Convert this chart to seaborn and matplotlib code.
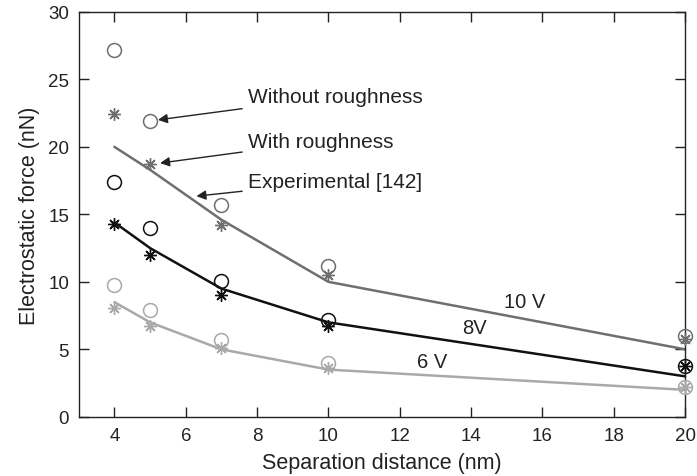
import matplotlib
matplotlib.use("Agg")
import matplotlib.pyplot as plt
import seaborn as sns
import pandas as pd

# Separation distances (nm)
distance = [4, 5, 7, 10, 20]

# Experimental curves [142]
exp_10v = [20.0, 18.3, 14.6, 10.0, 5.0]
exp_8v = [14.4, 12.5, 9.5, 7.0, 3.0]
exp_6v = [8.5, 7.0, 5.0, 3.5, 2.0]

# Model without roughness (circles)
smooth_10v = [27.2, 21.9, 15.7, 11.2, 6.0]
smooth_8v = [17.4, 14.0, 10.1, 7.2, 3.8]
smooth_6v = [9.8, 7.9, 5.7, 4.0, 2.2]

# Model with roughness (asterisks)
rough_10v = [22.4, 18.7, 14.2, 10.5, 5.8]
rough_8v = [14.3, 12.0, 9.0, 6.7, 3.8]
rough_6v = [8.1, 6.7, 5.1, 3.6, 2.2]

voltages = ["10 V", "8V", "6 V"]
colors = {"10 V": "#6f6f6f", "8V": "#111111", "6 V": "#a9a9a9"}


def frame(*series):
    return pd.DataFrame({
        "d": distance * len(series),
        "F": [f for s in series for f in s],
        "V": [v for v in voltages for _ in distance],
    })


exp = frame(exp_10v, exp_8v, exp_6v)
smooth = frame(smooth_10v, smooth_8v, smooth_6v)
rough = frame(rough_10v, rough_8v, rough_6v)

sns.set_style("ticks")
plt.rcParams["font.family"] = ["Liberation Sans", "DejaVu Sans"]

fig = plt.figure(figsize=(6.97, 4.77), dpi=100)
ax = fig.add_axes([0.113, 0.124, 0.870, 0.849])

sns.lineplot(data=exp, x="d", y="F", hue="V", palette=colors, linewidth=1.8,
             legend=False, ax=ax, clip_on=False, zorder=2)

for v in voltages:
    sub = smooth[smooth["V"] == v]
    ax.plot(sub["d"], sub["F"], linestyle="none", marker="o", markersize=10,
            markerfacecolor="none", markeredgecolor=colors[v], markeredgewidth=1.1,
            clip_on=False, zorder=3)
    sub = rough[rough["V"] == v]
    ax.plot(sub["d"], sub["F"], linestyle="none", marker=(8, 2, 0), markersize=9,
            color=colors[v], markeredgewidth=1.0, clip_on=False, zorder=3)

ax.set_xlim(3, 20)
ax.set_ylim(0, 30)
ax.set_xticks([4, 6, 8, 10, 12, 14, 16, 18, 20])
ax.set_yticks([0, 5, 10, 15, 20, 25, 30])
ax.tick_params(direction="in", length=7, width=1.0, top=True, right=True,
               labelsize=13.5, colors="#222222", pad=7)
for s in ax.spines.values():
    s.set_linewidth(1.0)
    s.set_color("#222222")
    s.set_visible(True)

ax.set_xlabel("Separation distance (nm)", fontsize=15.5, color="#222222", labelpad=6)
ax.set_ylabel("Electrostatic force (nN)", fontsize=15.5, color="#222222", labelpad=6)

# Curve labels
ax.text(15.5, 8.55, "10 V", fontsize=14.5, ha="center", va="center", color="#222222")
ax.text(14.1, 6.6, "8V", fontsize=14.5, ha="center", va="center", color="#222222")
ax.text(12.9, 4.1, "6 V", fontsize=14.5, ha="center", va="center", color="#222222")

# Callouts
arrow = dict(arrowstyle="-|>", color="#222222", lw=1.0, mutation_scale=14,
             shrinkA=2, shrinkB=0)
ax.annotate("Without roughness", xy=(5.22, 22.0), xytext=(7.75, 23.75),
            fontsize=15, va="center", color="#222222", arrowprops=arrow)
ax.annotate("With roughness", xy=(5.28, 18.8), xytext=(7.75, 20.4),
            fontsize=15, va="center", color="#222222", arrowprops=arrow)
ax.annotate("Experimental [142]", xy=(6.3, 16.35), xytext=(7.75, 17.45),
            fontsize=15, va="center", color="#222222", arrowprops=arrow)

fig.savefig("out.png", dpi=100)
